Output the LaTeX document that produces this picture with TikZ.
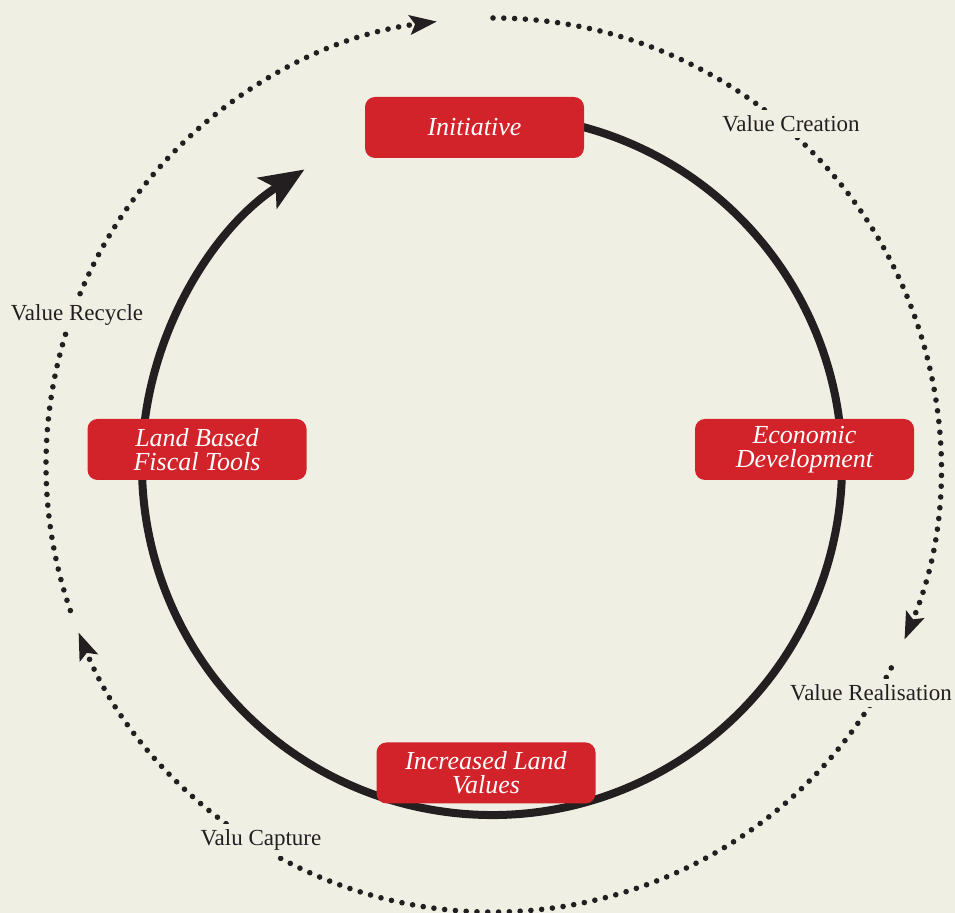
\documentclass[tikz,border=0pt]{standalone}
\usepackage{fontspec}
\setmainfont{Liberation Serif}
\usepackage{xcolor}
\usetikzlibrary{positioning, arrows.meta}

\definecolor{paper}{RGB}{240,239,228}
\definecolor{boxred}{RGB}{210,35,42}
\definecolor{ink}{RGB}{35,31,32}

\tikzset{
    stage/.style={fill=boxred, rounded corners=5pt, minimum width=109.5pt, minimum height=30.5pt,
        inner sep=0pt, text=white, align=center, font=\fontsize{13}{12}\selectfont\itshape},
    flowlabel/.style={fill=paper, text=ink, inner sep=3pt, font=\fontsize{11.5}{13}\selectfont},
    dots/.style={ink, line width=2.8pt, line cap=round, dash pattern=on 0pt off 5.4pt}
}

\begin{document}
\begin{tikzpicture}[x=0.5pt, y=0.5pt]
        \useasboundingbox (0, 0) rectangle (955, 913);
        \fill[paper] (0, 0) rectangle (955, 913);
        \coordinate (inner) at (492, 448);
        \coordinate (outer) at (493, 448);

        % the loop
        \draw[ink, line width=4pt, -{Stealth[length=22pt, width=18pt, inset=5pt]}]
            (inner) ++(80:350) arc[start angle=80, end angle=-237.6, radius=350];

        % value flow round the outside
        \foreach \a/\b in {90/-23, -27/-158, -161/-262.8} {
            \draw[dots, -{Stealth[length=13.5pt, width=9.5pt, inset=2.5pt]}]
                (outer) ++(\a:447) arc[start angle=\a, end angle=\b, radius=447];
        }

        \node[stage] (initiative) at (474.5, 785.5) {Initiative};
        \node[stage] (economic) at (804.5, 463.5) {Economic\\Development};
        \node[stage] (landvalues) at (486, 140) {Increased Land\\Values};
        \node[stage] (fiscal) at (197, 463.5) {Land Based\\Fiscal Tools};

        \node[flowlabel] (creation) at (791, 789) {Value Creation};
        \node[flowlabel] (realisation) at (871, 220) {Value Realisation};
        \node[flowlabel] (capture) at (261, 73) {Valu Capture};
        \node[flowlabel] (recycle) at (77, 598) {Value Recycle};
\end{tikzpicture}
\end{document}
